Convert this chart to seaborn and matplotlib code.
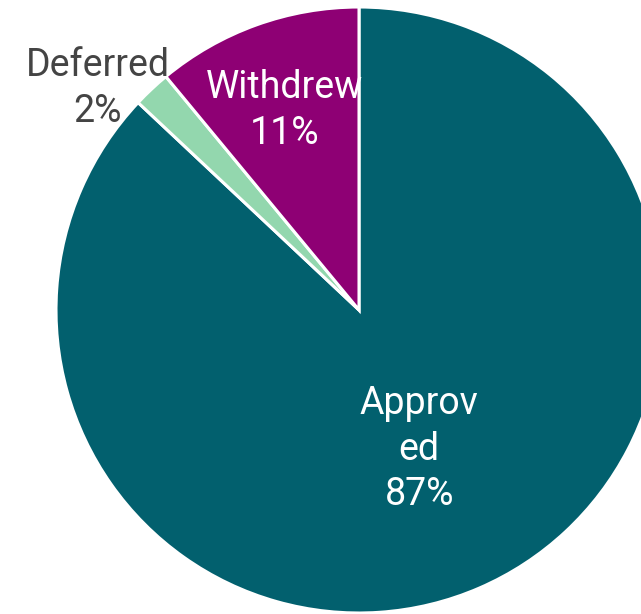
import numpy as np
import matplotlib
matplotlib.use("Agg")
import matplotlib.pyplot as plt
import seaborn as sns

# Application outcomes (percent)
categories = ["Approved", "Deferred", "Withdrew"]
values = [87, 2, 11]
label_lines = ["Approv\ned", "Deferred", "Withdrew"]
colors_hex = ["#02606E", "#93D7AE", "#8E0074"]
text_colors = ["white", "#444444", "white"]
label_radius = [0.50, 1.13, 0.70]

sns.set_theme(style="white")
plt.rcParams["font.family"] = ["Roboto", "DejaVu Sans"]
palette = sns.color_palette(colors_hex)

W, H, DPI = 641, 614, 100
R_PX = 303.0
CX, CY = 359.0, 310.0

fig = plt.figure(figsize=(W / DPI, H / DPI), dpi=DPI)
ax = fig.add_axes([0, 0, 1, 1])

wedges, _ = ax.pie(
    values,
    colors=palette,
    startangle=90,
    counterclock=False,
    radius=1.0,
    wedgeprops=dict(edgecolor="white", linewidth=2.2),
)

# Keep one data unit == R_PX pixels on both axes
ax.set_xlim(-CX / R_PX, (W - CX) / R_PX)
ax.set_ylim(-(H - CY) / R_PX, CY / R_PX)
ax.set_aspect("auto")
ax.axis("off")

total = sum(values)
for i, (w, val) in enumerate(zip(wedges, values)):
    mid = np.deg2rad((w.theta1 + w.theta2) / 2.0)
    r = label_radius[i]
    x, y = r * np.cos(mid), r * np.sin(mid)
    if categories[i] == "Deferred":
        # outside label nudged left/down to sit beside the slim slice
        x -= 27 / R_PX
        y -= 28 / R_PX
    elif categories[i] == "Withdrew":
        x -= 3 / R_PX
    pct = round(val / total * 100)
    ax.text(x, y, f"{label_lines[i]}\n{pct}%", ha="center", va="center",
            fontsize=27, color=text_colors[i], linespacing=1.3)

fig.savefig("out.png", dpi=DPI)
